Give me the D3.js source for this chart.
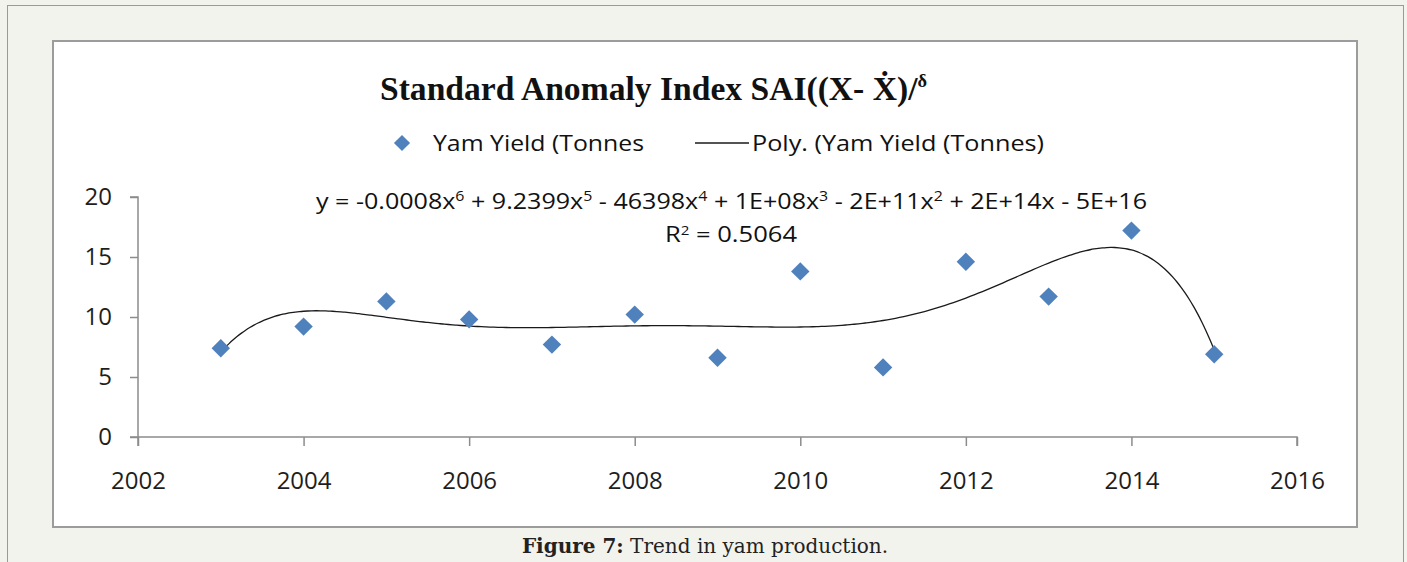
<!DOCTYPE html>
<html>
<head>
<meta charset="utf-8">
<script src="https://cdn.jsdelivr.net/npm/d3@7"></script>
<style>
  html, body { margin: 0; padding: 0; background: #f3f3ee; }
  svg { display: block; }
</style>
</head>
<body>
<svg id="chart" width="1407" height="562"></svg>
<script>
// data
const years = [2003, 2004, 2005, 2006, 2007, 2008, 2009, 2010, 2011, 2012, 2013, 2014, 2015];
const yamYield = [7.4, 9.2, 11.3, 9.8, 7.7, 10.2, 6.6, 13.8, 5.8, 14.6, 11.7, 17.2, 6.9];
const xTicks = [2002, 2004, 2006, 2008, 2010, 2012, 2014, 2016];
const yTicks = [0, 5, 10, 15, 20];

const svg = d3.select('#chart');

// page frame + chart box
svg.append('rect').attr('x', 7.5).attr('y', 5.5).attr('width', 1396).attr('height', 560)
  .attr('fill', '#f3f3ee').attr('stroke', '#7a9ed8').attr('stroke-width', 1);
svg.append('rect').attr('x', 53).attr('y', 41).attr('width', 1304).attr('height', 486)
  .attr('fill', '#ffffff').attr('stroke', '#9c9c9c').attr('stroke-width', 2);

const x = d3.scaleLinear().domain([2002, 2016]).range([138, 1297]);
const y = d3.scaleLinear().domain([0, 20]).range([437, 197]);

// axes
const xAxis = svg.append('g').attr('transform', 'translate(0,437)')
  .call(d3.axisBottom(x).tickValues(xTicks).tickFormat(d3.format('d')).tickSize(9).tickPadding(26));
const yAxis = svg.append('g').attr('transform', 'translate(138,0)')
  .call(d3.axisLeft(y).tickValues(yTicks).tickSize(8).tickPadding(18));
[xAxis, yAxis].forEach(g => {
  g.select('.domain').attr('stroke', '#8c8c8c').attr('stroke-width', 1.5);
  g.selectAll('.tick line').attr('stroke', '#8c8c8c').attr('stroke-width', 1.5);
  g.selectAll('.tick text').attr('fill', '#1e1e1e').attr('font-family', 'Open Sans, sans-serif').attr('font-size', 24);
});
// Excel style: y axis runs a little below the x axis, x axis starts left of it
yAxis.select('.domain').attr('d', 'M-8,197H0V446');
xAxis.select('.domain').attr('d', 'M' + (x(2002) - 8) + ',0H' + x(2016) + 'V9');

// 6th order polynomial trend (least squares, like Excel), x centred to keep it stable
function polyFit(xs, ys, deg) {
  const n = deg + 1;
  const A = Array.from({length: n}, () => new Array(n + 1).fill(0));
  xs.forEach((xv, k) => {
    for (let i = 0; i < n; i++) {
      for (let j = 0; j < n; j++) A[i][j] += Math.pow(xv, i + j);
      A[i][n] += ys[k] * Math.pow(xv, i);
    }
  });
  for (let c = 0; c < n; c++) {
    let p = c;
    for (let r = c + 1; r < n; r++) if (Math.abs(A[r][c]) > Math.abs(A[p][c])) p = r;
    [A[c], A[p]] = [A[p], A[c]];
    for (let r = 0; r < n; r++) {
      if (r === c) continue;
      const f = A[r][c] / A[c][c];
      for (let k = c; k <= n; k++) A[r][k] -= f * A[c][k];
    }
  }
  return A.map((row, i) => row[n] / row[i]);
}
const mid = 2009;
const coef = polyFit(years.map(d => (d - mid) / 6), yamYield, 6);
const trend = d3.range(years[0], years[years.length - 1] + 0.001, 0.05)
  .map(t => [t, coef.reduce((s, c, i) => s + c * Math.pow((t - mid) / 6, i), 0)]);

svg.append('path').datum(trend)
  .attr('fill', 'none').attr('stroke', '#1a1a1a').attr('stroke-width', 1.3)
  .attr('d', d3.line().x(d => x(d[0])).y(d => y(d[1])).curve(d3.curveBasis));

svg.append('g').selectAll('path').data(years).join('path')
  .attr('d', d3.symbol().type(d3.symbolSquare).size(170)())
  .attr('transform', (d, i) => `translate(${x(d)},${y(yamYield[i])}) rotate(45)`)
  .attr('fill', '#4f81bd');

// title
const title = svg.append('text').attr('x', 380).attr('y', 100)
  .attr('font-family', 'Liberation Serif, Times New Roman, serif').attr('font-weight', 'bold')
  .attr('font-size', 33).attr('fill', '#111')
  .attr('textLength', 547).attr('lengthAdjust', 'spacingAndGlyphs');
title.append('tspan').text('Standard Anomaly Index SAI((X- ');
title.append('tspan').text('Ẋ');
title.append('tspan').text(')/');
title.append('tspan').attr('font-size', 18).attr('dy', -13).text('δ');

// legend
svg.append('path').attr('d', d3.symbol().type(d3.symbolSquare).size(130)())
  .attr('transform', 'translate(402,143) rotate(45)').attr('fill', '#4f81bd');
svg.append('text').attr('x', 433).attr('y', 151).attr('font-family', 'Open Sans, sans-serif')
  .attr('font-size', 22).attr('fill', '#111').attr('textLength', 211).attr('lengthAdjust', 'spacingAndGlyphs')
  .text('Yam Yield (Tonnes');
svg.append('line').attr('x1', 695).attr('x2', 749).attr('y1', 143).attr('y2', 143)
  .attr('stroke', '#1a1a1a').attr('stroke-width', 1.5);
svg.append('text').attr('x', 752).attr('y', 151).attr('font-family', 'Open Sans, sans-serif')
  .attr('font-size', 22).attr('fill', '#111').attr('textLength', 292).attr('lengthAdjust', 'spacingAndGlyphs')
  .text('Poly. (Yam Yield (Tonnes)');

// equation
const eq = svg.append('text').attr('x', 316).attr('y', 209).attr('font-family', 'Open Sans, sans-serif')
  .attr('font-size', 22).attr('fill', '#111').attr('textLength', 831).attr('lengthAdjust', 'spacingAndGlyphs');
const parts = [['y = -0.0008x'], ['6', 1], [' + 9.2399x'], ['5', 1], [' - 46398x'], ['4', 1],
  [' + 1E+08x'], ['3', 1], [' - 2E+11x'], ['2', 1], [' + 2E+14x - 5E+16']];
parts.forEach((p, i) => {
  eq.append('tspan').attr('font-size', p[1] ? 14 : 22).attr('dy', p[1] ? -8 : (i ? 8 : 0)).text(p[0]);
});
const r2 = svg.append('text').attr('x', 665).attr('y', 242).attr('font-family', 'Open Sans, sans-serif')
  .attr('font-size', 22).attr('fill', '#111').attr('textLength', 132).attr('lengthAdjust', 'spacingAndGlyphs');
r2.append('tspan').text('R');
r2.append('tspan').attr('font-size', 13).attr('dy', -7).text('2');
r2.append('tspan').attr('dy', 7).text(' = 0.5064');

// caption
const cap = svg.append('text').attr('x', 705).attr('y', 553).attr('text-anchor', 'middle')
  .attr('font-family', 'DejaVu Serif, serif').attr('font-size', 20).attr('fill', '#222');
cap.append('tspan').attr('font-weight', 'bold').text('Figure 7:');
cap.append('tspan').text(' Trend in yam production.');
</script>
</body>
</html>
